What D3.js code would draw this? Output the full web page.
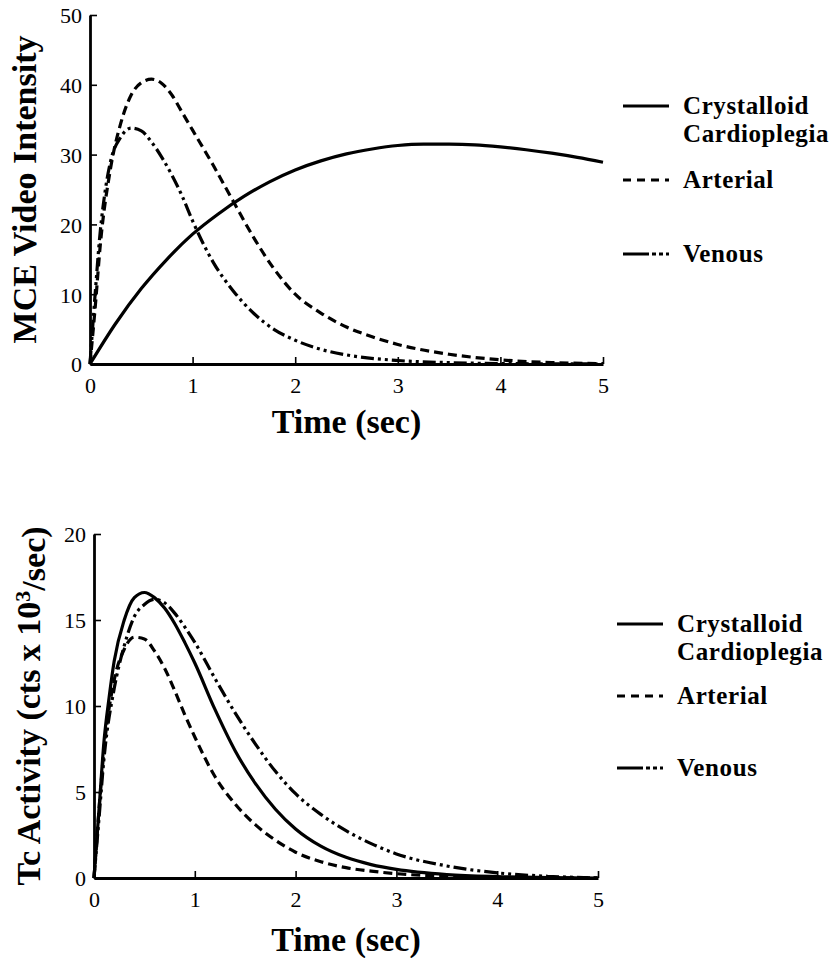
<!DOCTYPE html>
<html>
<head>
<meta charset="utf-8">
<script src="https://d3js.org/d3.v7.min.js"></script>
<style>
  html, body { margin: 0; padding: 0; background: #fff; }
  svg { display: block; font-family: "Liberation Serif", "Times New Roman", serif; }
</style>
</head>
<body>
<svg id="main"></svg>
<script>
// data
const seriesNames = ["Crystalloid Cardioplegia", "Arterial", "Venous"];

// top panel: MCE video intensity
const mceCrystT = [0, 0.25, 0.5, 0.75, 1, 1.25, 1.5, 1.75, 2, 2.25, 2.5, 2.75, 3, 3.25, 3.5, 3.75, 4, 4.25, 4.5, 4.75, 5];
const mceCrystV = [0, 5.8, 10.8, 15, 18.6, 21.5, 24, 26.1, 27.8, 29.1, 30.1, 30.8, 31.3, 31.5, 31.5, 31.4, 31.1, 30.7, 30.2, 29.6, 28.9];
const mceArtT = [0, 0.05, 0.1, 0.2, 0.3, 0.4, 0.5, 0.6, 0.7, 0.8, 0.9, 1.0, 1.2, 1.4, 1.6, 1.8, 2.0, 2.25, 2.5, 2.75, 3.0, 3.5, 4.0, 4.5, 5];
const mceArtV = [0, 8, 17, 28, 34.5, 38.5, 40.3, 40.8, 40.2, 38.5, 36, 33.5, 28.5, 23.2, 18, 13.5, 10, 7.3, 5.3, 3.9, 2.8, 1.4, 0.6, 0.2, 0.05];
const mceVenT = [0, 0.05, 0.1, 0.15, 0.2, 0.3, 0.4, 0.5, 0.6, 0.7, 0.8, 0.9, 1.0, 1.2, 1.4, 1.6, 1.8, 2.0, 2.25, 2.5, 3.0, 3.5, 4, 5];
const mceVenV = [0, 10, 19, 25, 29, 32.5, 33.8, 33.4, 31.8, 29.6, 27, 24, 20.5, 14.6, 10.4, 7.2, 4.9, 3.4, 2.1, 1.3, 0.5, 0.2, 0.07, 0];

// bottom panel: Tc activity
const tcCrystT = [0, 0.05, 0.1, 0.15, 0.2, 0.3, 0.4, 0.5, 0.6, 0.7, 0.8, 0.9, 1.0, 1.2, 1.4, 1.6, 1.8, 2.0, 2.25, 2.5, 2.75, 3.0, 3.5, 4, 4.5, 5];
const tcCrystV = [0, 4, 8, 10.5, 12.6, 15, 16.3, 16.6, 16.3, 15.7, 14.8, 13.7, 12.5, 9.8, 7.4, 5.5, 4.0, 2.85, 1.85, 1.2, 0.78, 0.5, 0.2, 0.08, 0.03, 0];
const tcArtT = [0, 0.05, 0.1, 0.2, 0.3, 0.4, 0.5, 0.6, 0.7, 0.8, 0.9, 1.0, 1.2, 1.4, 1.6, 1.8, 2.0, 2.25, 2.5, 2.75, 3, 3.5, 4, 5];
const tcArtV = [0, 4, 7.5, 11.5, 13.3, 14.0, 13.9, 13.2, 12.2, 10.9, 9.5, 8.2, 5.9, 4.3, 3.1, 2.2, 1.5, 0.95, 0.6, 0.4, 0.25, 0.1, 0.03, 0];
const tcVenT = [0, 0.05, 0.1, 0.2, 0.3, 0.4, 0.5, 0.6, 0.7, 0.8, 0.9, 1.0, 1.2, 1.4, 1.6, 1.8, 2.0, 2.25, 2.5, 2.75, 3.0, 3.5, 4, 4.5, 5];
const tcVenV = [0, 3.5, 7, 11, 13.5, 15.2, 15.9, 16.2, 16.0, 15.4, 14.6, 13.7, 11.6, 9.6, 7.8, 6.2, 4.9, 3.7, 2.75, 2.0, 1.4, 0.7, 0.3, 0.1, 0];

const xTicks = [0, 1, 2, 3, 4, 5];
const mceTicks = [0, 10, 20, 30, 40, 50];
const tcTicks = [0, 5, 10, 15, 20];

// layout
const width = 839, height = 958;
const dashes = ["none", "9,5", "13,4,3,4,3,4"];
const serif = "'Liberation Serif', 'Times New Roman', serif";

const svg = d3.select("#main").attr("width", width).attr("height", height);

function zip(t, v) { return t.map((d, i) => ({t: d, v: v[i]})); }

function panel(cfg) {
  const x = d3.scaleLinear().domain([0, 5]).range([cfg.x0, cfg.x1]);
  const y = d3.scaleLinear().domain([0, cfg.yMax]).range([cfg.y0, cfg.y1]);
  const g = svg.append("g");

  const xa = g.append("g")
    .attr("transform", `translate(0,${cfg.y0})`)
    .call(d3.axisBottom(x).tickValues(xTicks).tickFormat(d3.format("d"))
      .tickSize(-7).tickSizeOuter(0).tickPadding(13));
  const ya = g.append("g")
    .attr("transform", `translate(${cfg.x0},0)`)
    .call(d3.axisLeft(y).tickValues(cfg.yTicks).tickFormat(d3.format("d"))
      .tickSize(-7).tickSizeOuter(0).tickPadding(8));
  [xa, ya].forEach(a => {
    a.attr("font-family", serif).attr("font-size", 22);
    a.select(".domain").attr("stroke-width", 2.8).attr("stroke", "#000");
    a.selectAll(".tick line").attr("stroke-width", 1.6);
    a.selectAll(".tick text").attr("fill", "#000").style("font-family", serif);
  });
  ya.selectAll(".tick text").attr("dy", "0.36em");

  const line = d3.line().x(d => x(d.t)).y(d => y(d.v)).curve(d3.curveMonotoneX);
  cfg.series.forEach((s, i) => {
    g.append("path")
      .datum(s)
      .attr("d", line)
      .attr("fill", "none")
      .attr("stroke", "#000")
      .attr("stroke-width", 3.2)
      .attr("stroke-dasharray", dashes[i]);
  });

  // axis titles
  g.append("text")
    .attr("x", (cfg.x0 + cfg.x1) / 2)
    .attr("y", cfg.y0 + cfg.titleGap)
    .attr("text-anchor", "middle")
    .attr("font-size", 34).attr("font-weight", "bold")
    .text("Time (sec)");

  const yt = g.append("text")
    .attr("transform", `translate(${cfg.yTitleX},${(cfg.y0 + cfg.y1) / 2}) rotate(-90)`)
    .attr("text-anchor", "middle")
    .attr("font-size", 34).attr("font-weight", "bold");
  cfg.yTitle(yt);

  // legend
  const lg = g.append("g");
  cfg.legend.forEach((row, i) => {
    lg.append("line")
      .attr("x1", cfg.legX).attr("x2", cfg.legX + 46)
      .attr("y1", row.ly).attr("y2", row.ly)
      .attr("stroke", "#000").attr("stroke-width", 3.2)
      .attr("stroke-dasharray", i === 1 ? "8,6" : i === 2 ? "26,3,4,3,4,3" : "none");
    row.lines.forEach((txt, j) => {
      lg.append("text")
        .attr("x", cfg.legX + 60)
        .attr("y", row.ly + 8 + j * 28)
        .attr("font-size", 25).attr("font-weight", "bold")
        .attr("letter-spacing", 0.6)
        .text(txt);
    });
  });
}

panel({
  x0: 90, x1: 603, y0: 364, y1: 15, yMax: 50, yTicks: mceTicks,
  titleGap: 69, yTitleX: 36,
  yTitle: t => t.text("MCE Video Intensity"),
  series: [zip(mceCrystT, mceCrystV), zip(mceArtT, mceArtV), zip(mceVenT, mceVenV)],
  legX: 623,
  legend: [
    {ly: 106, lines: ["Crystalloid", "Cardioplegia"]},
    {ly: 180, lines: ["Arterial"]},
    {ly: 254, lines: ["Venous"]}
  ]
});

panel({
  x0: 94, x1: 598, y0: 878, y1: 534, yMax: 20, yTicks: tcTicks,
  titleGap: 73, yTitleX: 40,
  yTitle: t => {
    t.append("tspan").text("Tc Activity (cts x 10");
    t.append("tspan").attr("dy", "-0.45em").attr("font-size", 22).text("3");
    t.append("tspan").attr("dy", "0.45em").text("/sec)");
  },
  series: [zip(tcCrystT, tcCrystV), zip(tcArtT, tcArtV), zip(tcVenT, tcVenV)],
  legX: 617,
  legend: [
    {ly: 624, lines: ["Crystalloid", "Cardioplegia"]},
    {ly: 696, lines: ["Arterial"]},
    {ly: 768, lines: ["Venous"]}
  ]
});
</script>
</body>
</html>
